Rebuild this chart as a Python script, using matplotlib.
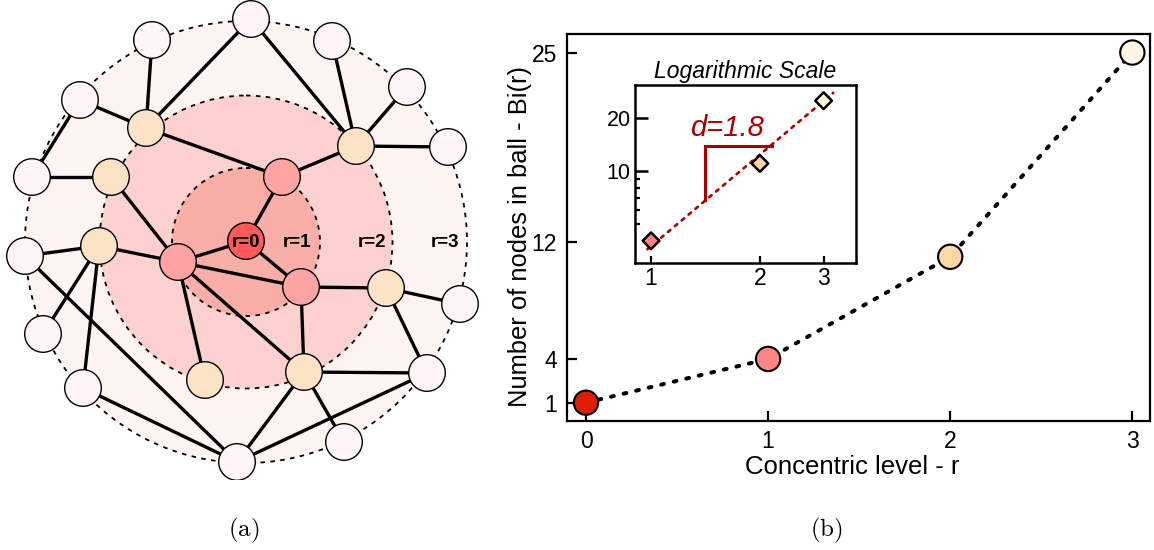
import matplotlib.pyplot as plt
from matplotlib.patches import Circle

plt.rcParams['font.family'] = ['Liberation Sans', 'DejaVu Sans']
plt.rcParams['mathtext.fontset'] = 'cm'

W, H = 1154, 550

# ---- panel (b): ball growth ----
levels = [0, 1, 2, 3]
ball_sizes = [1, 4, 11, 25]
level_colors = ['#dc1f00', '#ff8585', '#ffd6a6', '#fff6e6']
ytick_vals = [1, 4, 12, 25]

# inset, log-log
log_levels = [1, 2, 3]
log_sizes = [4, 11, 25]
log_colors = ['#ff8585', '#ffd6a6', '#fff6e6']
fit_x = [0.977, 3.19]
fit_y = [3.58, 27.7]
slope_x = [1.41, 2.155]
slope_y = [6.82, 13.8]
slope_label = 'd=1.8'

# ---- panel (a): network sketch (pixel coords) ----
node_level = {
    'c': 0,
    'A': 1, 'B': 1, 'C': 1,
    'D': 2, 'E': 2, 'F': 2, 'G': 2, 'H': 2, 'I': 2, 'J': 2,
    'K': 3, 'L': 3, 'M': 3, 'N': 3, 'O': 3, 'P': 3, 'Q': 3,
    'R': 3, 'S': 3, 'T': 3, 'U': 3, 'V': 3, 'W': 3, 'X': 3,
}
node_xy = {
    'c': (246, 241),
    'A': (282, 177), 'B': (178, 262), 'C': (301, 287),
    'D': (146, 128), 'E': (356, 146), 'F': (111, 177), 'G': (99, 246),
    'H': (386, 288), 'I': (304, 372), 'J': (205, 380),
    'K': (251, 19), 'L': (152, 40), 'M': (332, 41), 'N': (80, 100),
    'O': (407, 87), 'P': (448, 147), 'Q': (32, 177), 'R': (25, 256),
    'S': (460, 304), 'T': (43, 334), 'U': (427, 373), 'V': (83, 388),
    'W': (344, 442), 'X': (237, 462),
}
edges = [
    ('c', 'A'), ('c', 'B'), ('c', 'C'),
    ('A', 'D'), ('A', 'E'), ('B', 'F'), ('B', 'G'), ('B', 'C'),
    ('B', 'J'), ('B', 'I'), ('C', 'H'), ('C', 'I'),
    ('D', 'L'), ('D', 'N'), ('D', 'K'), ('E', 'K'), ('E', 'M'),
    ('E', 'O'), ('E', 'P'), ('F', 'Q'), ('N', 'Q'), ('G', 'R'),
    ('G', 'T'), ('G', 'V'), ('R', 'X'), ('H', 'S'), ('H', 'U'),
    ('I', 'U'), ('I', 'W'), ('I', 'X'), ('V', 'X'), ('U', 'X'),
]
ring_center = (246, 242)
ring_radius = [221, 146.5, 74]
ring_colors = ['#fef4f2', '#fdd1cf', '#f9aea8']
node_colors = ['#ff5a5a', '#ffa3a3', '#fde3c6', '#fff4f7']
ring_labels = ['r=0', 'r=1', 'r=2', 'r=3']
ring_label_x = [246, 297, 372, 445]

fig = plt.figure(figsize=(W / 100, H / 100), dpi=100)

# ---------------- panel (a) ----------------
axa = fig.add_axes([0, (H - 480) / H, 480 / W, 480 / H])
axa.set_xlim(0, 480)
axa.set_ylim(480, 0)
axa.axis('off')

for rad, col in zip(ring_radius, ring_colors):
    axa.add_patch(Circle(ring_center, rad, facecolor=col, edgecolor='none', zorder=1))
    axa.add_patch(Circle(ring_center, rad, facecolor='none', edgecolor='k',
                         lw=1.3, ls=(0, (2.5, 3)), zorder=2))

for a, b in edges:
    (x0, y0), (x1, y1) = node_xy[a], node_xy[b]
    axa.plot([x0, x1], [y0, y1], color='k', lw=2.4, solid_capstyle='round', zorder=3)

for name, (x, y) in node_xy.items():
    axa.add_patch(Circle((x, y), 18.3, facecolor=node_colors[node_level[name]],
                         edgecolor='k', lw=1.0, zorder=4))

for lab, lx in zip(ring_labels, ring_label_x):
    axa.text(lx, 242.5, lab, ha='center', va='center', fontsize=13.5,
             fontweight='bold', zorder=5)

# ---------------- panel (b) ----------------
L, R, T, B = 566.7, 1150, 34.3, 420.5
ax = fig.add_axes([L / W, 1 - B / H, (R - L) / W, (B - T) / H])
ax.plot(levels, ball_sizes, color='k', lw=2.9, ls=(0, (0.7, 2.5)),
        dash_capstyle='round', zorder=2)
ax.scatter(levels, ball_sizes, s=17.5 ** 2, c=level_colors, edgecolors='k',
           linewidths=1.5, zorder=3, clip_on=False)
ax.set_xlim(-0.106, 3.097)
ax.set_ylim(-0.22, 26.25)
ax.set_xticks(levels)
ax.set_yticks(ytick_vals)
ax.tick_params(direction='in', length=7, width=1.6, labelsize=16.5, pad=7)
for s in ax.spines.values():
    s.set_linewidth(1.6)
ax.set_xlabel('Concentric level - r', fontsize=18.5)
ax.xaxis.set_label_coords((852.4 - L) / (R - L), (B - 455) / (B - T))
ax.set_ylabel('Number of nodes in ball - Bi(r)', fontsize=18.4, va='center')
ax.yaxis.set_label_coords((520 - L) / (R - L), (B - 236.7) / (B - T))

# inset
iL, iR, iT, iB = 635, 855.7, 85, 263.3
axi = fig.add_axes([iL / W, 1 - iB / H, (iR - iL) / W, (iB - iT) / H])
axi.set_xscale('log')
axi.set_yscale('log')
axi.plot(fit_x, fit_y, color='#a80000', lw=1.9, ls=(0, (1.2, 2.2)),
         dash_capstyle='round', zorder=2)
axi.plot([slope_x[0], slope_x[0]], slope_y, color='#a80000', lw=2.2, zorder=2)
axi.plot(slope_x, [slope_y[1], slope_y[1]], color='#a80000', lw=2.2, zorder=2)
axi.text(1.62, 17.4, slope_label, color='#a80000', fontsize=21, style='italic',
         ha='center', va='center')
axi.scatter(log_levels, log_sizes, marker='D', s=8.5 ** 2, c=log_colors,
            edgecolors='k', linewidths=1.8, zorder=3)
axi.set_xlim(0.903, 3.68)
axi.set_ylim(2.98, 30.7)
axi.set_xticks(log_levels, ['1', '2', '3'])
axi.xaxis.set_minor_locator(plt.NullLocator())
axi.set_yticks([10, 20], ['10', '20'])
axi.set_yticks([5, 6, 7, 8, 9], minor=True)
axi.yaxis.set_minor_formatter(plt.NullFormatter())
axi.tick_params(axis='x', which='major', direction='in', length=5, width=1.6,
                labelsize=16.5, pad=3)
axi.tick_params(axis='y', which='major', direction='in', length=9, width=1.8,
                labelsize=15.5, pad=3)
axi.tick_params(axis='y', which='minor', direction='in', length=3.5, width=1.6)
for s in axi.spines.values():
    s.set_linewidth(1.8)
axi.set_title('Logarithmic Scale', fontsize=16.5, style='italic', pad=5)

# captions
fig.text(244 / W, 1 - 530 / H, r'$\mathrm{(a)}$', fontsize=18, ha='center', va='center')
fig.text(826 / W, 1 - 530 / H, r'$\mathrm{(b)}$', fontsize=18, ha='center', va='center')

fig.savefig('out.png', dpi=100)
